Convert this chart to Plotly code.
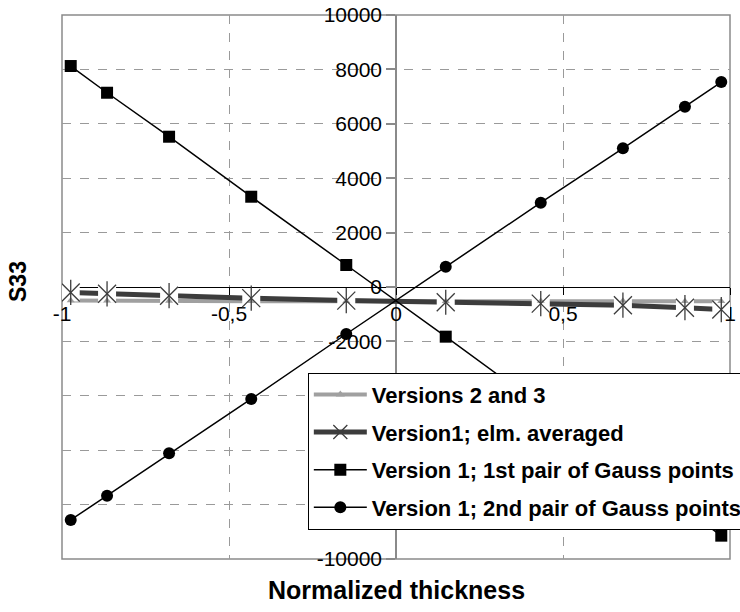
import plotly.graph_objects as go

# Gauss point positions through the normalized thickness
thickness = [-0.9739, -0.8651, -0.6794, -0.4334, -0.1489,
             0.1489, 0.4334, 0.6794, 0.8651, 0.9739]

s33_v23 = [-495, -505, -515, -525, -525, -520, -515, -510, -520, -525]
s33_v1_avg = [-200, -250, -320, -410, -500, -560, -610, -670, -760, -830]
s33_v1_gp1 = [8124, 7142, 5525, 3319, 809, -1826, -4380, -6560, -8200, -9142]
s33_v1_gp2 = [-8565, -7671, -6114, -4117, -1728, 746, 3100, 5099, 6628, 7536]

x_tickvals = [-1, -0.5, 0, 0.5, 1]
x_ticktext = ["-1", "-0,5", "0", "0,5", "1"]
y_tickvals = [-10000, -8000, -6000, -4000, -2000, 0, 2000, 4000, 6000, 8000, 10000]
y_ticktext = [str(v) for v in y_tickvals]

FONT = "Liberation Sans, Arial, sans-serif"
LIGHT = "#a0a0a0"
DARK = "#3c3c3c"

fig = go.Figure()

# Versions 2 and 3: light grey thick line
fig.add_trace(go.Scatter(x=thickness, y=s33_v23, mode="lines",
                         line=dict(color=LIGHT, width=4), showlegend=False,
                         hoverinfo="skip"))
# Version 1 element averaged: dark thick line
fig.add_trace(go.Scatter(x=thickness, y=s33_v1_avg, mode="lines",
                         line=dict(color=DARK, width=5), showlegend=False,
                         hoverinfo="skip"))
# white backing of the star markers
fig.add_trace(go.Scatter(x=thickness, y=s33_v1_avg, mode="markers",
                         marker=dict(symbol="square", size=18, color="white",
                                     line=dict(width=0)),
                         showlegend=False, hoverinfo="skip"))
# small triangles of Versions 2 and 3
fig.add_trace(go.Scatter(x=thickness, y=s33_v23, mode="markers",
                         marker=dict(symbol="triangle-up", size=7, color=LIGHT,
                                     line=dict(width=0)),
                         showlegend=False, hoverinfo="skip"))
# star markers (x plus vertical bar)
for sym in ["x-thin-open", "line-ns-open"]:
    fig.add_trace(go.Scatter(x=thickness, y=s33_v1_avg, mode="markers",
                             marker=dict(symbol=sym, size=18, color=DARK,
                                         line=dict(color=DARK, width=1.3)),
                             showlegend=False, hoverinfo="skip"))

# legend entries for the two thick series
fig.add_trace(go.Scatter(x=[None], y=[None], mode="lines+markers",
                         name="Versions 2 and 3", legendrank=1, legendgroup="a",
                         line=dict(color=LIGHT, width=4),
                         marker=dict(symbol="triangle-up", size=8, color=LIGHT)))
fig.add_trace(go.Scatter(x=[None], y=[None], mode="lines+markers",
                         name="Version1; elm. averaged", legendrank=2, legendgroup="b",
                         line=dict(color=DARK, width=5),
                         marker=dict(symbol="x-thin-open", size=14, color=DARK,
                                     line=dict(color=DARK, width=1.3))))

fig.add_trace(go.Scatter(x=thickness, y=s33_v1_gp1, mode="lines+markers",
                         name="Version 1; 1st pair of Gauss points", legendrank=3,
                         legendgroup="c",
                         line=dict(color="black", width=1.5),
                         marker=dict(symbol="square", size=12, color="black")))
fig.add_trace(go.Scatter(x=thickness, y=s33_v1_gp2, mode="lines+markers",
                         name="Version 1; 2nd pair of Gauss points", legendrank=4,
                         legendgroup="d",
                         line=dict(color="black", width=1.5),
                         marker=dict(symbol="circle", size=12, color="black")))

fig.update_layout(
    width=740, height=612,
    margin=dict(l=62, r=10, t=15, b=53, autoexpand=False),
    paper_bgcolor="white", plot_bgcolor="white",
    font=dict(family=FONT, size=21, color="black"),
    showlegend=True,
    legend=dict(x=0.368, y=0.3425, xanchor="left", yanchor="top",
                bgcolor="white", bordercolor="black", borderwidth=1,
                font=dict(family=FONT, size=22, color="black", weight="bold"),
                itemwidth=53, traceorder="grouped", tracegroupgap=6),
    xaxis=dict(range=[-1, 1], tickvals=x_tickvals, ticktext=x_ticktext,
               anchor="free", position=0.5,
               showline=True, linecolor="black", linewidth=1,
               ticks="outside", ticklen=7, tickcolor="black", tickwidth=1,
               showgrid=True, gridcolor="#9a9a9a", griddash="dash", gridwidth=1,
               zeroline=False, layer="below traces",
               tickfont=dict(size=21), ticklabelstandoff=1),
    yaxis=dict(range=[-10000, 10000], tickvals=y_tickvals, ticktext=y_ticktext,
               anchor="free", position=0.5,
               showline=True, linecolor="#8a8a8a", linewidth=1.5,
               ticks="outside", ticklen=9, tickcolor="#8a8a8a", tickwidth=1.5,
               showgrid=True, gridcolor="#9a9a9a", griddash="dash", gridwidth=1,
               zeroline=False, layer="below traces",
               tickfont=dict(size=21)),
    shapes=[dict(type="rect", xref="paper", yref="paper", x0=0, x1=1, y0=0, y1=1,
                 line=dict(color="#8a8a8a", width=1.5), layer="below")],
    annotations=[
        dict(text="<b>Normalized thickness</b>", xref="paper", yref="paper",
             x=0.5, y=0, yshift=-31, xanchor="center", yanchor="middle",
             showarrow=False, font=dict(size=25)),
        dict(text="<b>S33</b>", xref="paper", yref="paper",
             x=0, y=0.5, xshift=-44, yshift=5, xanchor="center", yanchor="middle",
             textangle=-90, showarrow=False, font=dict(size=23)),
    ],
)

fig.write_html("out.html")
